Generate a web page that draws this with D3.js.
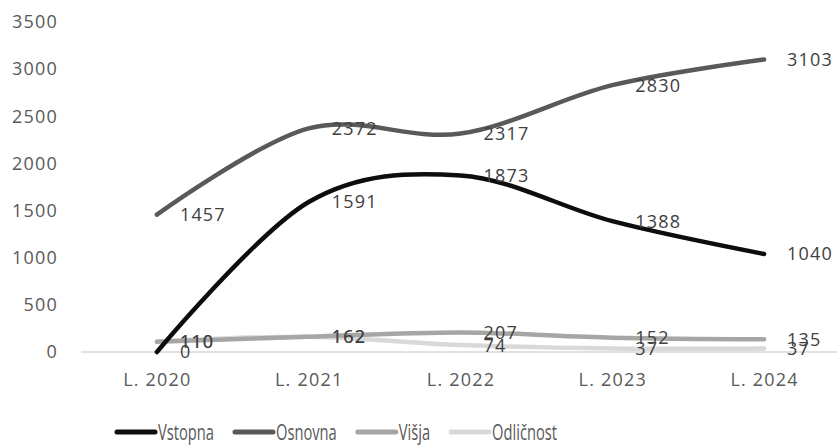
<!DOCTYPE html>
<html>
<head>
<meta charset="utf-8">
<script src="https://cdn.jsdelivr.net/npm/d3@7"></script>
<style>
  html, body { margin: 0; padding: 0; background: #fff; }
  svg { display: block; }
  text { font-family: "Open Sans", "Noto Sans", sans-serif; }
</style>
</head>
<body>
<svg id="chart" width="837" height="445"></svg>
<script>
// Categories (years) and series values
const years = ["L. 2020", "L. 2021", "L. 2022", "L. 2023", "L. 2024"];
const seriesNames = ["Vstopna", "Osnovna", "Višja", "Odličnost"];
const vstopna   = [0, 1591, 1873, 1388, 1040];
const osnovna   = [1457, 2372, 2317, 2830, 3103];
const visja     = [110, 162, 207, 152, 135];
const odlicnost = [110, 162, 74, 37, 37];
const yTicks    = [0, 500, 1000, 1500, 2000, 2500, 3000, 3500];

const seriesColors = ["#0d0d0d", "#595959", "#a6a6a6", "#d9d9d9"];
const series = [vstopna, osnovna, visja, odlicnost].map((values, i) => ({
  name: seriesNames[i],
  color: seriesColors[i],
  values: values
}));

const svg = d3.select("#chart");

const x = d3.scalePoint().domain(years).range([81, 840]).padding(0.5);
const y = d3.scaleLinear().domain([0, 3500]).range([352, 22]);

// Y axis labels (no axis line, no gridlines)
const yAxis = d3.axisLeft(y).tickValues(yTicks).tickFormat(d3.format("d")).tickSize(0).tickPadding(0);
const gy = svg.append("g").attr("transform", "translate(58,0)").call(yAxis);
gy.select(".domain").remove();
gy.selectAll("text")
  .attr("fill", "#595959")
  .style("font-size", "18px")
  .style("letter-spacing", "1.2px")
  .style("font-family", "'Open Sans', sans-serif");

// X axis: baseline plus category labels
const xAxis = d3.axisBottom(x).tickSize(0).tickPadding(0);
const gx = svg.append("g").attr("transform", `translate(0,${y(0)})`).call(xAxis);
gx.select(".domain").remove();
gx.selectAll("text")
  .attr("fill", "#595959")
  .attr("dy", "1.9em")
  .style("font-size", "18px")
  .style("letter-spacing", "1.2px")
  .style("font-family", "'Open Sans', sans-serif");
svg.append("line")
  .attr("x1", 81).attr("x2", 840)
  .attr("y1", y(0)).attr("y2", y(0))
  .attr("stroke", "#d9d9d9").attr("stroke-width", 1.3);

// Smoothed lines; the first series sits on top
const line = d3.line()
  .x((d, i) => x(years[i]))
  .y(d => y(d))
  .curve(d3.curveCatmullRom.alpha(0));

svg.append("g").selectAll("path")
  .data(series.slice().reverse())
  .join("path")
  .attr("d", s => line(s.values))
  .attr("fill", "none")
  .attr("stroke", s => s.color)
  .attr("stroke-width", 4.5)
  .attr("stroke-linecap", "round")
  .attr("stroke-linejoin", "round");

// Value labels to the right of each point
const labelG = svg.append("g");
series.forEach(s => {
  labelG.selectAll(null)
    .data(s.values)
    .join("text")
    .attr("x", (d, i) => x(years[i]) + 23)
    .attr("y", d => y(d))
    .attr("dy", "0.36em")
    .attr("fill", "#404040")
    .style("font-size", "18px")
    .style("letter-spacing", "1.2px")
    .text(d => d);
});

// Legend with narrow lettering
const legend = svg.append("g").attr("transform", "translate(117,432)");
const squeeze = 0.7;
let cursor = 0;
series.forEach(s => {
  const item = legend.append("g").attr("transform", `translate(${cursor},0)`);
  item.append("line")
    .attr("x1", 0).attr("x2", 38)
    .attr("y1", 0).attr("y2", 0)
    .attr("stroke", s.color)
    .attr("stroke-width", 5)
    .attr("stroke-linecap", "round");
  const t = item.append("text")
    .attr("transform", `translate(41,0) scale(${squeeze},1)`)
    .attr("dy", "0.36em")
    .attr("fill", "#595959")
    .style("font-size", "21px")
    .text(s.name);
  const w = t.node().getComputedTextLength() * squeeze;
  cursor += 41 + w + 21;
});
</script>
</body>
</html>
